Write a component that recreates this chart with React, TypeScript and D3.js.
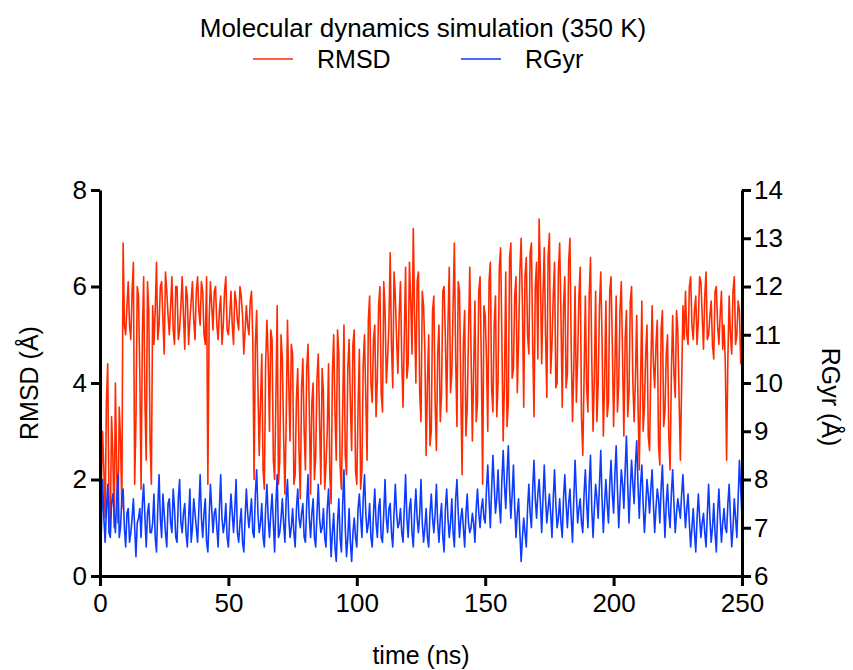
import React, { useEffect, useRef } from "react";
import * as d3 from "d3";

// RMSD (Å), reading at each whole ns, 0..250
const rmsd = [
  0.1, 3.0, 1.2, 4.4, 0.9, 2.5, 4.0, 1.1, 2.8, 6.9,
  5.0, 6.1, 4.9, 6.5, 3.2, 5.8, 1.8, 6.2, 2.4, 5.5,
  1.9, 4.8, 6.5, 5.2, 6.1, 4.6, 5.9, 5.0, 6.2, 4.8,
  6.0, 5.1, 6.2, 4.7, 5.8, 5.3, 6.1, 4.9, 6.2, 5.2,
  5.9, 4.8, 1.9, 6.1, 5.1, 6.0, 4.9, 5.8, 5.2, 6.2,
  5.0, 5.9, 4.8, 5.7, 5.1, 5.8, 4.6, 5.6, 5.0, 5.9,
  2.0, 5.5, 2.5, 4.6, 1.8, 5.3, 3.0, 4.9, 2.0, 5.6,
  2.4, 4.5, 1.7, 5.3, 2.8, 4.6, 2.1, 4.3, 1.6, 4.5,
  2.2, 4.8, 1.7, 4.0, 2.5, 4.6, 1.9, 3.8, 2.3, 4.4,
  1.5, 5.0, 2.4, 4.6, 1.8, 5.2, 2.1, 4.9, 2.6, 5.1,
  1.9, 4.7, 2.2, 5.0, 2.4, 5.8, 3.6, 5.2, 4.1, 6.0,
  3.4, 5.5, 4.5, 6.7, 3.9, 5.8, 4.2, 6.1, 3.5, 6.4,
  4.4, 5.7, 7.2, 4.0, 6.3, 3.2, 5.6, 2.5, 5.0, 3.0,
  5.8, 2.6, 5.2, 3.8, 6.0, 3.4, 6.4, 4.2, 6.9, 3.1,
  5.9, 2.1, 5.5, 3.5, 6.4, 2.8, 5.7, 3.6, 6.2, 1.9,
  5.4, 3.0, 6.5, 3.4, 5.8, 4.0, 6.8, 2.8, 6.3, 3.6,
  6.9, 4.3, 6.2, 4.9, 7.0, 3.5, 6.6, 4.6, 6.9, 3.3,
  6.5, 7.4, 4.4, 6.8, 3.7, 7.1, 4.8, 6.5, 4.0, 6.9,
  3.5, 6.2, 4.2, 7.0, 3.2, 6.0, 4.5, 6.4, 2.5, 5.8,
  3.4, 6.6, 3.0, 5.9, 4.0, 6.3, 2.9, 5.7, 3.6, 6.2,
  3.1, 5.8, 4.0, 6.1, 2.9, 5.5, 3.8, 6.0, 3.2, 5.4,
  2.2, 5.7, 3.5, 5.2, 2.6, 5.6, 3.9, 5.3, 2.3, 5.5,
  3.4, 5.0, 2.2, 5.4, 3.7, 5.1, 2.4, 5.6, 5.9, 4.8,
  6.2, 4.9, 5.8, 5.3, 6.1, 4.7, 6.3, 5.0, 5.7, 4.5,
  6.0, 4.8, 5.9, 5.2, 2.4, 5.8, 4.6, 6.2, 5.0, 5.5,
  4.6,
];

// RMSD (Å), reading at each half ns, 0.5..249.5
const rmsdHalf = [
  1.8, 2.2, 3.6, 1.5, 3.3, 1.0, 2.2, 3.5, 1.4, 5.2,
  5.6, 5.2, 5.9, 1.9, 6.0, 4.2, 5.0, 3.6, 6.1, 2.8,
  5.6, 5.5, 4.9, 6.0, 5.3, 6.3, 5.4, 5.6, 5.1, 6.0,
  4.9, 5.6, 5.4, 6.0, 4.8, 5.7, 5.3, 5.9, 5.5, 6.1,
  5.0, 6.2, 5.3, 5.6, 5.9, 5.2, 5.5, 4.8, 5.9, 5.1,
  5.4, 5.2, 5.9, 5.3, 6.0, 5.4, 5.1, 5.2, 5.7, 4.9,
  4.8, 3.9, 3.6, 2.2, 4.4, 4.5, 5.1, 2.4, 3.7, 1.9,
  5.0, 2.9, 3.2, 4.0, 4.8, 1.9, 3.7, 2.6, 3.9, 3.0,
  4.3, 3.5, 3.6, 2.0, 4.1, 3.2, 4.3, 1.8, 3.0, 2.1,
  4.2, 3.4, 5.1, 2.3, 3.4, 2.5, 4.3, 3.6, 4.8, 2.2,
  3.5, 1.8, 4.4, 3.7, 5.3, 4.0, 4.9, 3.3, 5.6, 3.8,
  6.1, 4.0, 5.2, 4.8, 6.3, 4.9, 5.4, 4.5, 5.0, 4.1,
  6.5, 4.6, 5.4, 6.1, 3.8, 5.9, 4.7, 4.0, 2.7, 5.5,
  3.6, 4.6, 3.2, 5.9, 4.9, 5.2, 3.8, 5.6, 4.5, 6.1,
  3.9, 4.8, 2.9, 5.0, 4.6, 4.3, 3.2, 5.9, 4.4, 5.6,
  4.5, 6.1, 3.9, 5.2, 3.3, 6.4, 4.9, 4.0, 3.1, 6.6,
  4.1, 5.8, 3.8, 6.3, 5.6, 6.2, 5.0, 6.7, 4.8, 6.0,
  4.5, 6.2, 5.8, 5.0, 6.6, 4.2, 5.8, 3.9, 6.3, 5.4,
  5.6, 3.9, 6.5, 4.7, 4.3, 3.6, 5.8, 3.3, 4.1, 3.9,
  5.8, 4.5, 4.1, 3.2, 5.6, 4.9, 4.0, 3.3, 5.9, 4.8,
  4.3, 3.4, 5.5, 4.5, 4.9, 3.3, 5.7, 4.0, 4.1, 3.6,
  4.0, 3.0, 4.6, 2.9, 4.3, 4.4, 4.8, 2.7, 5.1, 3.1,
  4.6, 2.9, 4.2, 4.2, 5.5, 3.7, 4.0, 4.9, 5.0, 6.0,
  5.2, 5.5, 4.8, 6.2, 5.4, 5.8, 4.9, 5.4, 4.8, 5.9,
  5.2, 5.4, 4.7, 4.4, 4.5, 5.0, 5.9, 4.8, 5.7, 4.4,
];

// radius of gyration (Å), reading at each whole ns, 0..250
const rgyr = [
  7.4, 8.0, 6.7, 7.9, 6.8, 7.7, 6.9, 8.1, 7.0, 7.8,
  6.6, 7.4, 6.9, 7.6, 6.4, 7.2, 6.8, 7.9, 6.6, 7.5,
  6.9, 7.7, 6.5, 8.1, 6.8, 7.3, 6.6, 7.6, 6.9, 7.4,
  6.7, 8.0, 6.9, 7.5, 6.6, 7.8, 7.0, 7.3, 6.7, 8.1,
  6.8, 7.6, 6.5, 7.9, 6.9, 7.4, 6.6, 8.1, 6.9, 7.5,
  6.6, 7.7, 6.9, 8.0, 6.7, 7.4, 6.5, 7.8, 7.0, 7.6,
  6.8, 8.2, 6.9, 7.5, 6.6, 7.9, 6.8, 7.7, 6.5, 8.1,
  6.9, 7.6, 6.7, 8.0, 6.8, 7.4, 6.6, 7.8, 7.0, 7.5,
  6.7, 8.1, 6.8, 7.6, 6.6, 7.9, 6.9, 7.4, 6.6, 7.8,
  6.4, 7.3, 6.3, 7.6, 6.5, 8.2, 6.4, 7.4, 6.3, 7.2,
  6.6, 7.7, 6.8, 8.1, 6.9, 7.5, 6.6, 7.8, 6.8, 7.6,
  6.7, 8.0, 6.9, 7.5, 6.6, 7.9, 7.0, 7.4, 6.7, 8.1,
  6.8, 7.6, 6.6, 7.8, 6.9, 8.0, 6.7, 7.4, 6.6, 7.7,
  6.9, 7.9, 6.7, 7.5, 6.5, 7.8, 6.8, 7.6, 6.6, 8.0,
  6.8, 7.4, 6.6, 7.7, 6.9, 7.3, 6.7, 7.8, 7.0, 7.6,
  7.1, 8.3, 7.0, 8.5, 7.3, 8.2, 7.1, 8.6, 7.4, 8.7,
  7.2, 8.3, 6.8, 7.6, 6.3, 7.2, 6.6, 7.9, 7.0, 8.4,
  7.2, 8.0, 6.9, 8.3, 7.1, 7.7, 6.8, 8.2, 7.0, 7.6,
  6.8, 8.1, 7.0, 7.8, 6.7, 8.4, 7.1, 7.6, 6.9, 8.2,
  7.0, 8.5, 6.8, 7.9, 7.2, 8.6, 6.9, 8.0, 7.1, 8.4,
  7.3, 8.7, 7.0, 8.2, 7.4, 8.9, 7.1, 8.4, 7.5, 8.8,
  7.2, 8.3, 6.9, 8.0, 7.3, 8.2, 6.9, 7.8, 7.1, 8.3,
  6.8, 7.9, 7.0, 8.2, 6.9, 7.6, 7.2, 8.1, 7.0, 7.7,
  6.6, 7.4, 6.5, 7.7, 6.8, 7.3, 6.6, 7.9, 6.7, 7.5,
  6.5, 7.8, 6.7, 7.4, 6.9, 7.9, 6.6, 7.6, 6.8, 8.4,
  7.2,
];

// radius of gyration (Å), reading at each half ns, 0.5..249.5
const rgyrHalf = [
  6.9, 7.2, 7.4, 6.9, 7.5, 7.3, 7.6, 6.8, 7.6, 7.0,
  7.3, 6.7, 7.2, 7.0, 7.1, 7.4, 7.5, 7.2, 7.3, 6.9,
  7.1, 6.8, 7.4, 7.2, 7.7, 6.9, 7.5, 7.1, 7.8, 6.8,
  7.6, 7.1, 7.3, 6.9, 7.2, 6.7, 7.6, 7.0, 7.4, 7.2,
  7.3, 6.7, 7.2, 7.4, 7.3, 7.0, 7.4, 7.2, 7.1, 6.8,
  7.2, 7.3, 7.4, 6.9, 7.1, 6.7, 7.2, 7.3, 7.3, 6.9,
  7.7, 7.3, 7.1, 6.8, 7.4, 7.2, 7.3, 7.1, 7.5, 6.8,
  7.2, 7.1, 7.6, 7.2, 7.0, 6.9, 7.4, 7.2, 7.3, 6.8,
  7.5, 7.2, 7.3, 6.8, 7.3, 7.2, 7.0, 6.8, 7.4, 7.1,
  6.9, 6.6, 7.1, 6.8, 7.5, 7.0, 6.8, 6.7, 6.9, 6.8,
  7.4, 7.2, 7.6, 7.3, 7.1, 6.8, 7.3, 7.1, 7.4, 6.8,
  7.3, 7.2, 7.4, 6.9, 7.3, 7.3, 7.1, 6.9, 7.4, 7.2,
  7.4, 6.9, 7.3, 7.2, 7.3, 7.1, 7.0, 6.8, 7.3, 7.2,
  7.3, 7.1, 7.2, 6.8, 7.4, 7.2, 7.1, 6.9, 7.6, 7.3,
  7.2, 7.0, 7.3, 7.1, 7.0, 7.1, 7.4, 7.3, 7.4, 7.2,
  7.8, 7.6, 7.8, 7.9, 7.6, 7.5, 8.0, 7.9, 8.1, 7.8,
  7.7, 7.4, 7.3, 6.9, 6.8, 6.9, 7.4, 7.3, 7.8, 7.6,
  7.7, 7.5, 7.6, 7.6, 7.4, 7.3, 7.6, 7.5, 7.2, 7.1,
  7.6, 7.5, 7.5, 7.2, 7.6, 7.7, 7.4, 7.1, 7.7, 7.5,
  7.9, 7.4, 7.4, 7.6, 7.9, 7.6, 7.5, 7.5, 7.9, 7.7,
  8.1, 7.8, 7.6, 7.9, 8.2, 7.9, 7.8, 7.9, 8.3, 7.9,
  7.9, 7.5, 7.4, 7.7, 7.8, 7.5, 7.4, 7.6, 7.8, 7.5,
  7.5, 7.3, 7.7, 7.5, 7.3, 7.4, 7.7, 7.5, 7.4, 7.1,
  7.0, 6.9, 7.2, 7.2, 7.1, 6.9, 7.3, 7.2, 7.0, 6.9,
  7.3, 7.2, 7.1, 7.0, 7.5, 7.2, 7.0, 7.2, 7.6, 7.8,
];

const xTicks = [0, 50, 100, 150, 200, 250];
const leftTicks = [0, 2, 4, 6, 8];
const rightTicks = [6, 7, 8, 9, 10, 11, 12, 13, 14];

// interleave whole-ns and half-ns readings into [time, value] pairs
const merge = (whole, half) => {
  const out = [];
  whole.forEach((v, i) => {
    out.push([i, v]);
    if (i < half.length) out.push([i + 0.5, half[i]]);
  });
  return out;
};

const App = () => {
  const svgRef = useRef(null);

  useEffect(() => {
    document.body.style.margin = "0";
    const svg = d3.select(svgRef.current);
    svg.selectAll("*").remove();

    const width = 853;
    const height = 670;
    const font = "'Liberation Sans', Arial, Helvetica, sans-serif";
    const red = "#ff2a00";
    const blue = "#0d3bff";

    svg.attr("width", width).attr("height", height).style("font-family", font);

    // plot box
    const left = 100, right = 742, top = 190, bottom = 576;

    const x = d3.scaleLinear().domain([0, 250]).range([left, right]);
    const yL = d3.scaleLinear().domain([0, 8]).range([bottom, top]);
    const yR = d3.scaleLinear().domain([6, 14]).range([bottom, top]);

    // --- Lines ---
    const rmsdLine = d3
      .line()
      .x((d) => x(d[0]))
      .y((d) => yL(d[1]));
    const rgyrLine = d3
      .line()
      .x((d) => x(d[0]))
      .y((d) => yR(d[1]));

    svg
      .append("path")
      .datum(merge(rmsd, rmsdHalf))
      .attr("fill", "none")
      .attr("stroke", red)
      .attr("stroke-width", 1.6)
      .attr("stroke-linejoin", "round")
      .attr("d", rmsdLine);

    svg
      .append("path")
      .datum(merge(rgyr, rgyrHalf))
      .attr("fill", "none")
      .attr("stroke", blue)
      .attr("stroke-width", 1.6)
      .attr("stroke-linejoin", "round")
      .attr("d", rgyrLine);

    // --- Axes ---
    const styleAxis = (g) => {
      g.select(".domain").attr("stroke", "#000").attr("stroke-width", 3);
      g.selectAll(".tick line").attr("stroke", "#000").attr("stroke-width", 3);
      g.selectAll(".tick text")
        .attr("fill", "#000")
        .style("font-size", "26px")
        .style("font-family", font);
    };

    svg
      .append("g")
      .attr("transform", `translate(0, ${bottom})`)
      .call(
        d3.axisBottom(x).tickValues(xTicks).tickSize(10).tickSizeOuter(0).tickPadding(8)
      )
      .call(styleAxis);

    svg
      .append("g")
      .attr("transform", `translate(${left}, 0)`)
      .call(
        d3.axisLeft(yL).tickValues(leftTicks).tickSize(9).tickSizeOuter(0).tickPadding(4)
      )
      .call(styleAxis);

    svg
      .append("g")
      .attr("transform", `translate(${right}, 0)`)
      .call(
        d3.axisRight(yR).tickValues(rightTicks).tickSize(9).tickSizeOuter(0).tickPadding(3)
      )
      .call(styleAxis);

    // --- Axis titles ---
    svg
      .append("text")
      .attr("x", (left + right) / 2)
      .attr("y", 664)
      .attr("text-anchor", "middle")
      .style("font-size", "25px")
      .text("time (ns)");

    svg
      .append("text")
      .attr("transform", `translate(38, ${(top + bottom) / 2}) rotate(-90)`)
      .attr("text-anchor", "middle")
      .style("font-size", "25px")
      .text("RMSD (Å)");

    svg
      .append("text")
      .attr("transform", `translate(822, ${(top + bottom) / 2 + 14}) rotate(90)`)
      .attr("text-anchor", "middle")
      .style("font-size", "25px")
      .text("RGyr (Å)");

    // --- Title ---
    svg
      .append("text")
      .attr("x", 423)
      .attr("y", 37)
      .attr("text-anchor", "middle")
      .style("font-size", "26px")
      .text("Molecular dynamics simulation (350 K)");

    // --- Legend ---
    const legend = [
      { name: "RMSD", color: red, x0: 253 },
      { name: "RGyr", color: blue, x0: 461 },
    ];
    legend.forEach((l) => {
      svg
        .append("line")
        .attr("x1", l.x0)
        .attr("x2", l.x0 + 40)
        .attr("y1", 59)
        .attr("y2", 59)
        .attr("stroke", l.color)
        .attr("stroke-width", 1.5);
      svg
        .append("text")
        .attr("x", l.x0 + 64)
        .attr("y", 68)
        .style("font-size", "25px")
        .text(l.name);
    });
  }, []);

  return <svg ref={svgRef}></svg>;
};

export default App;
